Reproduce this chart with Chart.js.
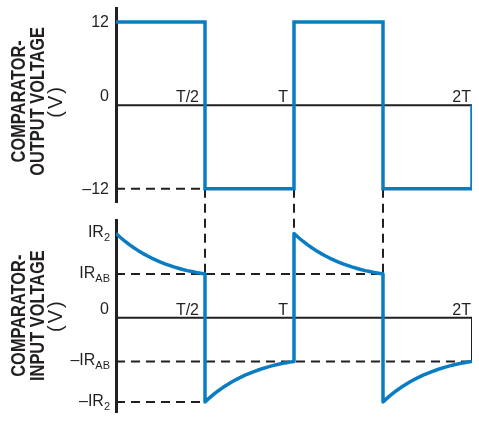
<!DOCTYPE html>
<html>
<head>
<meta charset="utf-8">
<style>
  html, body { margin: 0; padding: 0; background: #ffffff; }
  canvas { display: block; }
</style>
<script src="https://cdn.jsdelivr.net/npm/chart.js@4.4.0/dist/chart.umd.min.js"></script>
</head>
<body>
<canvas id="c" width="479" height="421"></canvas>
<script>
// ---------- data (time in units of T) ----------
const timeTicks = [0.5, 1, 2];
const timeTickLabels = ['T/2', 'T', '2T'];

// comparator output voltage (V)
const outTime  = [0, 0.5, 0.5, 1, 1, 1.5, 1.5, 2, 2];
const outVolts = [12, 12, -12, -12, 12, 12, -12, -12, 0];
const outTickValues = [12, 0, -12];
const outTickLabels = ['12', '0', '\u201312'];

// comparator input voltage (in units of IR2)
const inTime = [
  0, 0.025, 0.05, 0.075, 0.1, 0.125, 0.15, 0.175, 0.2, 0.225, 0.25,
  0.275, 0.3, 0.325, 0.35, 0.375, 0.4, 0.425, 0.45, 0.475, 0.5,
  0.5, 0.525, 0.55, 0.575, 0.6, 0.625, 0.65, 0.675, 0.7, 0.725, 0.75,
  0.775, 0.8, 0.825, 0.85, 0.875, 0.9, 0.925, 0.95, 0.975, 1.0,
  1.0, 1.025, 1.05, 1.075, 1.1, 1.125, 1.15, 1.175, 1.2, 1.225, 1.25,
  1.275, 1.3, 1.325, 1.35, 1.375, 1.4, 1.425, 1.45, 1.475, 1.5,
  1.5, 1.525, 1.55, 1.575, 1.6, 1.625, 1.65, 1.675, 1.7, 1.725, 1.75,
  1.775, 1.8, 1.825, 1.85, 1.875, 1.9, 1.925, 1.95, 1.975, 2.0
];
const inVolts = [
  1.00, 0.952, 0.908, 0.867, 0.830, 0.796, 0.764, 0.735, 0.708, 0.683, 0.661,
  0.640, 0.621, 0.603, 0.587, 0.572, 0.559, 0.548, 0.537, 0.528, 0.52,
  -1.00, -0.952, -0.908, -0.867, -0.830, -0.796, -0.764, -0.735, -0.708, -0.683, -0.661,
  -0.640, -0.621, -0.603, -0.587, -0.572, -0.559, -0.548, -0.537, -0.528, -0.52,
  1.00, 0.952, 0.908, 0.867, 0.830, 0.796, 0.764, 0.735, 0.708, 0.683, 0.661,
  0.640, 0.621, 0.603, 0.587, 0.572, 0.559, 0.548, 0.537, 0.528, 0.52,
  -1.00, -0.952, -0.908, -0.867, -0.830, -0.796, -0.764, -0.735, -0.708, -0.683, -0.661,
  -0.640, -0.621, -0.603, -0.587, -0.572, -0.559, -0.548, -0.537, -0.528, -0.52
];
const inTickValues = [1, 0.52, 0, -0.52, -1];
const inTickMain = ['IR', 'IR', '0', '\u2013IR', '\u2013IR'];
const inTickSub  = ['2', 'AB', '', 'AB', '2'];

// guide lines
const outZeroT = [0, 2],        outZeroV = [0, 0];
const outLowDashT = [0, 0.5],   outLowDashV = [-12, -12];
const inZeroT = [0, 2, 2],      inZeroV = [0, 0, -0.52];
const inAbDashT = [0, 1.5],     inAbDashV = [0.52, 0.52];
const inNegAbDashT = [0, 2],    inNegAbDashV = [-0.52, -0.52];
const inNegR2DashT = [0, 0.5],  inNegR2DashV = [-1, -1];
const dropT = [0.5, 1, 1.5];
const dropTopV = [-12, -12, -12];
const dropBotV = [0.52, 1, 0.52];

const topTitle = ['COMPARATOR-', 'OUTPUT VOLTAGE', '(V)'];
const botTitle = ['COMPARATOR-', 'INPUT VOLTAGE', '(V)'];

// ---------- styling ----------
const BLUE = '#0a7dc2';
const INK = '#231f20';
const FONT = '"Liberation Sans", Arial, Helvetica, sans-serif';

function pts(xs, ys) { return xs.map((x, i) => ({ x: x, y: ys[i] })); }

function lineSet(label, xs, ys, axis, color, width, dash, order) {
  return {
    label: label,
    data: pts(xs, ys),
    yAxisID: axis,
    borderColor: color,
    borderWidth: width,
    borderDash: dash || [],
    borderJoinStyle: 'miter',
    borderCapStyle: 'butt',
    pointRadius: 0,
    fill: false,
    tension: 0,
    order: order
  };
}

const DASH = [9, 6];
const datasets = [
  lineSet('Output voltage', outTime, outVolts, 'yTop', BLUE, 3.5, null, 0),
  lineSet('Input voltage', inTime, inVolts, 'yBot', BLUE, 3.5, null, 0),
  lineSet('zeroTop', outZeroT, outZeroV, 'yTop', INK, 2, null, 1),
  lineSet('lowDash', outLowDashT, outLowDashV, 'yTop', INK, 2, DASH, 1),
  lineSet('zeroBot', inZeroT, inZeroV, 'yBot', INK, 2, null, 1),
  lineSet('abDash', inAbDashT, inAbDashV, 'yBot', INK, 2, DASH, 1),
  lineSet('negAbDash', inNegAbDashT, inNegAbDashV, 'yBot', INK, 2, DASH, 1),
  lineSet('negR2Dash', inNegR2DashT, inNegR2DashV, 'yBot', INK, 2, DASH, 1)
];
datasets[1].borderJoinStyle = 'round';

function yAxis(weightOrder, stackWeight, min, max, showBorder) {
  return {
    type: 'linear',
    position: 'left',
    stack: 'v',
    stackWeight: stackWeight,
    weight: weightOrder,
    min: min,
    max: max,
    afterFit: function (s) { s.width = 116; },
    ticks: { display: false },
    grid: { display: false, drawTicks: false },
    border: { display: showBorder, color: INK, width: 3 }
  };
}

function drawTitle(ctx, lines, cy) {
  const xs = [25, 43.5, 61.5];
  lines.forEach((txt, i) => {
    ctx.save();
    ctx.translate(xs[i], cy);
    ctx.rotate(-Math.PI / 2);
    if (i < 2) {
      ctx.scale(0.82, 1);
      ctx.font = 'bold 20px ' + FONT;
    } else {
      ctx.font = '20px ' + FONT;
      try { ctx.letterSpacing = '2px'; } catch (e) {}
    }
    ctx.fillStyle = INK;
    ctx.textAlign = 'center';
    ctx.textBaseline = 'alphabetic';
    ctx.fillText(txt, 0, 0);
    ctx.restore();
  });
}

const overlay = {
  id: 'overlay',
  beforeDatasetsDraw(chart) {
    const ctx = chart.ctx;
    const x = chart.scales.x, yTop = chart.scales.yTop, yBot = chart.scales.yBot;
    ctx.save();
    ctx.strokeStyle = INK;
    ctx.lineWidth = 2;
    ctx.setLineDash(DASH);
    dropT.forEach((t, i) => {
      const px = x.getPixelForValue(t);
      ctx.beginPath();
      ctx.moveTo(px, yTop.getPixelForValue(dropTopV[i]));
      ctx.lineTo(px, yBot.getPixelForValue(dropBotV[i]));
      ctx.stroke();
    });
    ctx.restore();
  },
  afterDatasetsDraw(chart) {
    const ctx = chart.ctx;
    const x = chart.scales.x, yTop = chart.scales.yTop, yBot = chart.scales.yBot;
    const labelX = chart.chartArea.left - 7;
    ctx.save();
    ctx.fillStyle = INK;
    ctx.textAlign = 'right';

    // top y labels
    ctx.font = '16px ' + FONT;
    outTickValues.forEach((v, i) => {
      const py = yTop.getPixelForValue(v);
      if (v === 0) {
        ctx.textBaseline = 'alphabetic';
        ctx.fillText(outTickLabels[i], labelX, py - 4);
      } else {
        ctx.textBaseline = 'middle';
        ctx.fillText(outTickLabels[i], labelX, py + 1);
      }
    });

    // bottom y labels with subscripts
    inTickValues.forEach((v, i) => {
      const py = yBot.getPixelForValue(v);
      const sub = inTickSub[i];
      ctx.textBaseline = 'alphabetic';
      if (!sub) {
        ctx.font = '16px ' + FONT;
        ctx.fillText(inTickMain[i], labelX, py - 4);
      } else {
        ctx.font = '11px ' + FONT;
        const sw = ctx.measureText(sub).width;
        ctx.fillText(sub, labelX + 1, py + 8);
        ctx.font = '16px ' + FONT;
        ctx.fillText(inTickMain[i], labelX + 1 - sw, py + 4);
      }
    });

    // time labels above each zero line
    ctx.font = '16px ' + FONT;
    ctx.textBaseline = 'alphabetic';
    [yTop, yBot].forEach(ys => {
      const zy = ys.getPixelForValue(0);
      timeTicks.forEach((t, i) => {
        const px = x.getPixelForValue(t);
        const gap = (t === x.max) ? 1 : 6;
        ctx.fillText(timeTickLabels[i], px - gap, zy - 3);
      });
    });
    ctx.restore();

    drawTitle(ctx, topTitle, yTop.getPixelForValue(0) - 4);
    drawTitle(ctx, botTitle, yBot.getPixelForValue(0) - 2);
  }
};

new Chart(document.getElementById('c'), {
  type: 'line',
  data: { datasets: datasets },
  options: {
    responsive: false,
    animation: false,
    devicePixelRatio: 1,
    events: [],
    layout: { padding: { top: 8, right: 7, bottom: 9, left: 0 } },
    plugins: { legend: { display: false }, tooltip: { enabled: false } },
    scales: {
      x: { type: 'linear', min: 0, max: 2, display: false },
      yTop: yAxis(3, 194, -13.9, 14.0, true),
      yGap: yAxis(2, 18, 0, 1, false),
      yBot: yAxis(1, 192, -1.12, 1.16, true)
    }
  },
  plugins: [overlay]
});
</script>
</body>
</html>
